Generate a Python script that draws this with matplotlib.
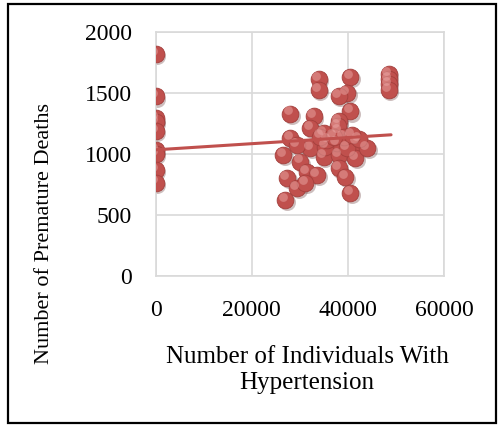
from matplotlib import pyplot as plt
from matplotlib import transforms
from matplotlib.patches import Rectangle

# individuals with hypertension (x) and premature deaths (y)
hyper_x = [0, 0, 0, 0, 0, 0, 0, 0, 0,
           27990, 33890, 33890, 40490, 39790, 38060, 48470, 48470, 48470, 48470,
           40480, 32830, 38050, 32150, 38050, 28030, 34930, 41870, 32150, 29370,
           26580, 30060, 34930, 38050, 41520, 43950, 31460, 33540, 38050, 39430,
           27290, 29370, 31110, 26940, 40480, 37700, 39790, 35280, 37850, 39100,
           42220, 40830, 35660, 34240, 37000]
deaths_y = [1817, 1470, 1290, 1260, 1185, 1030, 1000, 870, 765,
            1330, 1615, 1525, 1628, 1497, 1475, 1656, 1610, 1570, 1525,
            1347, 1306, 1265, 1210, 1183, 1127, 1170, 1096, 1047, 1074,
            992, 937, 978, 992, 965, 1047, 855, 828, 883, 814,
            801, 719, 760, 623, 678, 1088, 1047, 1060, 1230, 1140,
            1120, 1156, 1115, 1142, 1142]

# linear trendline as drawn in the chart
trend_x = [0, 48960]
trend_y = [1033, 1156]

x_ticks = [0, 20000, 40000, 60000]
y_ticks = [0, 500, 1000, 1500, 2000]

plt.rcParams['font.family'] = ['Liberation Serif', 'DejaVu Serif']

fig = plt.figure(figsize=(4.99, 4.25), dpi=100)
ax = fig.add_axes([0.312, 0.3506, 0.578, 0.5748])

red = '#C0504D'

# shadow, ball, highlight to get the shaded marker look
shadow = transforms.offset_copy(ax.transData, fig=fig, x=1.3, y=-1.6, units='points')
light = transforms.offset_copy(ax.transData, fig=fig, x=-1.8, y=2.2, units='points')
ax.scatter(hyper_x, deaths_y, s=150, color='#5a2a28', alpha=0.3,
           linewidths=0, transform=shadow, zorder=2)
ax.scatter(hyper_x, deaths_y, s=145, color=red, edgecolors='#a33f3c',
           linewidths=0.6, zorder=3)
ax.scatter(hyper_x, deaths_y, s=40, color='#eaa6a4', alpha=0.5,
           linewidths=0, transform=light, zorder=4)

ax.plot(trend_x, trend_y, color=red, lw=2.2, solid_capstyle='round', zorder=5)

ax.set_xlim(0, 60000)
ax.set_ylim(0, 2000)
ax.set_xticks(x_ticks)
ax.set_yticks(y_ticks)
ax.grid(True, color='#D9D9D9', lw=1.2)
ax.set_axisbelow(True)
for s in ax.spines.values():
    s.set_color('#D9D9D9')
    s.set_linewidth(1.2)
ax.tick_params(length=0, labelsize=17, colors='black')
ax.tick_params(axis='y', pad=17)
ax.tick_params(axis='x', pad=17)

fig.text(307 / 499, 1 - 370 / 425, "Number of Individuals With\nHypertension",
         ha='center', va='center', fontsize=18, linespacing=1.2)
fig.text(45 / 499, 1 - 234 / 425, "Number of Premature Deaths",
         ha='center', va='center', rotation=90, fontsize=16)

# black frame round the whole chart
fig.patches.append(Rectangle((8 / 499, 2 / 425), 488 / 499, 419 / 425,
                             transform=fig.transFigure, fill=False,
                             edgecolor='black', lw=1.6))

fig.savefig('out.png', dpi=100)
